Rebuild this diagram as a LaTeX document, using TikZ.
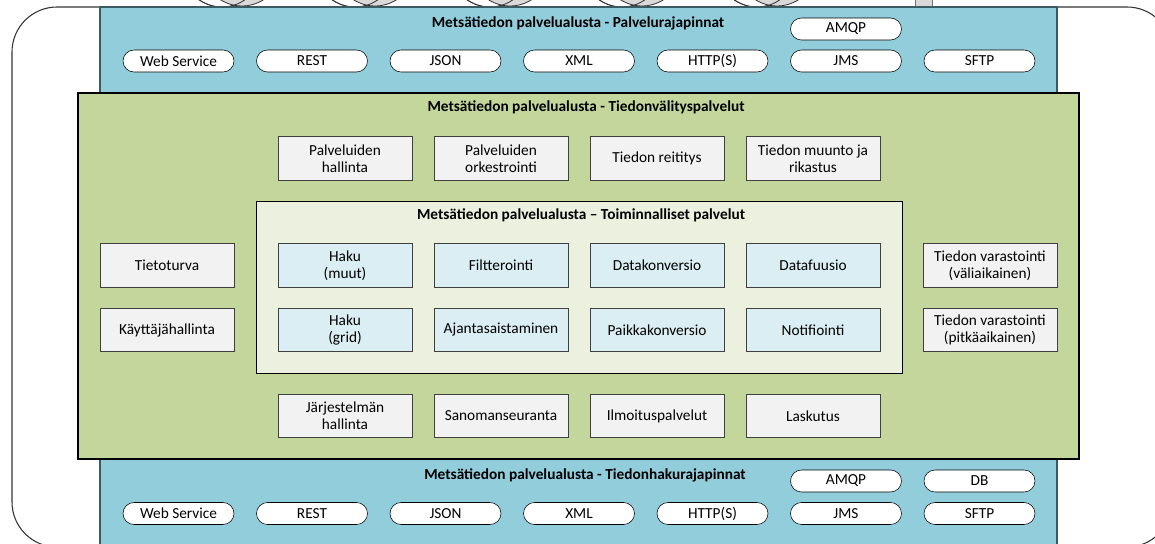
\documentclass[tikz,border=0pt]{standalone}
\usepackage{fontspec}
\setmainfont{Carlito}
\definecolor{apiblue}{HTML}{92CDDC}
\definecolor{apiedge}{HTML}{3B5A63}
\definecolor{midgreen}{HTML}{C3D69B}
\definecolor{innergreen}{HTML}{EBF1DE}
\definecolor{boxgray}{HTML}{F2F2F2}
\definecolor{boxblue}{HTML}{DBEEF3}
\definecolor{discgray}{HTML}{D9D9D9}
\tikzset{frame/.style={draw=black!80, line width=0.8pt, rounded corners=33.75pt}}
\tikzset{apilayer/.style={draw=apiedge, fill=apiblue, line width=0.9pt}}
\tikzset{midlayer/.style={draw=black, fill=midgreen, line width=0.8pt}}
\tikzset{funclayer/.style={draw=black, fill=innergreen, line width=0.6pt}}
\tikzset{pill/.style={draw, fill=white, rounded corners=8.25pt, minimum width=83.25pt, minimum height=16.5pt, inner sep=0pt}}
\tikzset{graybox/.style={draw=black!75, fill=boxgray, line width=0.6pt, minimum width=100.5pt, minimum height=32.5pt, inner sep=0pt}}
\tikzset{bluebox/.style={graybox, fill=boxblue}}
\tikzset{title/.style={font=\fontsize{11.5}{13}\selectfont\bfseries}}
\tikzset{disc/.style={draw=black!80, line width=0.6pt}}

\begin{document}
\begin{tikzpicture}[x=0.75pt, y=-0.75pt]
	% Default action for each node
	\tikzstyle{every node}=[font=\fontsize{11.5}{13}\selectfont, align=center];

	\useasboundingbox (0,0) rectangle (1155,543);
	\clip (0,0) rectangle (1155,543);

	% Outer frame
	\draw[frame] (12,7) rectangle (1172,547);

	% Cut-off discs above
	\filldraw[disc, fill=white] (222,-33) circle[radius=30pt];	\filldraw[disc, fill=discgray] (242,-34) circle[radius=30pt];	\draw[disc] (222,-33) circle[radius=30pt];
	\filldraw[disc, fill=white] (355,-33) circle[radius=30pt];	\filldraw[disc, fill=discgray] (375,-34) circle[radius=30pt];	\draw[disc] (355,-33) circle[radius=30pt];
	\filldraw[disc, fill=white] (490,-33) circle[radius=30pt];	\filldraw[disc, fill=discgray] (510,-34) circle[radius=30pt];	\draw[disc] (490,-33) circle[radius=30pt];
	\filldraw[disc, fill=white] (622,-33) circle[radius=30pt];	\filldraw[disc, fill=discgray] (642,-34) circle[radius=30pt];	\draw[disc] (622,-33) circle[radius=30pt];
	\filldraw[disc, fill=white] (757,-33) circle[radius=30pt];	\filldraw[disc, fill=discgray] (777,-34) circle[radius=30pt];	\draw[disc] (757,-33) circle[radius=30pt];
	\filldraw[disc, fill=discgray, draw=black!55] (915,-5) rectangle (932,7);

	% Layers
	\draw[apilayer] (100,7) rectangle (1057,93);
	\draw[apilayer] (100,459) rectangle (1057,560);
	\draw[midlayer] (78,93) rectangle (1079,459);
	\draw[funclayer] (256,201) rectangle (902,373);

	% TOP: Palvelurajapinnat
	\node[title] (top title) at (578,23) {Metsätiedon palvelualusta - Palvelurajapinnat};
																																													\node[pill] (top amqp) at (846,29) {AMQP};
	\node[pill] (top ws) at (178.5,61) {Web Service};	\node[pill] (top rest) at (312,61) {REST};	\node[pill] (top json) at (445.5,61) {JSON};	\node[pill] (top xml) at (579,61) {XML};	\node[pill] (top http) at (712.5,61) {HTTP(S)};	\node[pill] (top jms) at (846,61) {JMS};	\node[pill] (top sftp) at (979.5,61) {SFTP};

	% MIDDLE: Tiedonvälityspalvelut
	\node[title] (mid title) at (586,107) {Metsätiedon palvelualusta - Tiedonvälityspalvelut};
	\node[graybox] (r1c1) at (345,158.5) {Palveluiden\\hallinta};	\node[graybox] (r1c2) at (501,158.5) {Palveluiden\\orkestrointi};	\node[graybox] (r1c3) at (657,158.5) {Tiedon reititys};	\node[graybox] (r1c4) at (813,158.5) {Tiedon muunto ja\\rikastus};

	% INNER: Toiminnalliset palvelut
	\node[title] (func title) at (581,215) {Metsätiedon palvelualusta -- Toiminnalliset palvelut};
	\node[graybox] (lhs up) at (167,265.5) {Tietoturva};				\node[bluebox] (r2c1) at (345,265.5) {Haku\\(muut)};	\node[bluebox] (r2c2) at (501,265.5) {Filtterointi};			\node[bluebox] (r2c3) at (657,265.5) {Datakonversio};	\node[bluebox] (r2c4) at (813,265.5) {Datafuusio};		\node[graybox] (rhs up) at (990,265.5) {Tiedon varastointi\\(väliaikainen)};
	\node[graybox] (lhs down) at (167,330) {Käyttäjähallinta};		\node[bluebox] (r3c1) at (345,330) {Haku\\(grid)};		\node[bluebox] (r3c2) at (501,330) {Ajantasaistaminen};	\node[bluebox] (r3c3) at (657,330) {Paikkakonversio};	\node[bluebox] (r3c4) at (813,330) {Notifiointi};		\node[graybox] (rhs down) at (990,330) {Tiedon varastointi\\(pitkäaikainen)};

	\node[graybox] (r4c1) at (345,416) {Järjestelmän\\hallinta};	\node[graybox] (r4c2) at (501,416) {Sanomanseuranta};	\node[graybox] (r4c3) at (657,416) {Ilmoituspalvelut};	\node[graybox] (r4c4) at (813,416) {Laskutus};

	% BOTTOM: Tiedonhakurajapinnat
	\node[title] (bot title) at (585,475) {Metsätiedon palvelualusta - Tiedonhakurajapinnat};
																																													\node[pill] (bot amqp) at (846,481) {AMQP};	\node[pill] (bot db) at (979.5,481) {DB};
	\node[pill] (bot ws) at (178.5,513.5) {Web Service};	\node[pill] (bot rest) at (312,513.5) {REST};	\node[pill] (bot json) at (445.5,513.5) {JSON};	\node[pill] (bot xml) at (579,513.5) {XML};	\node[pill] (bot http) at (712.5,513.5) {HTTP(S)};	\node[pill] (bot jms) at (846,513.5) {JMS};	\node[pill] (bot sftp) at (979.5,513.5) {SFTP};
\end{tikzpicture}
\end{document}
